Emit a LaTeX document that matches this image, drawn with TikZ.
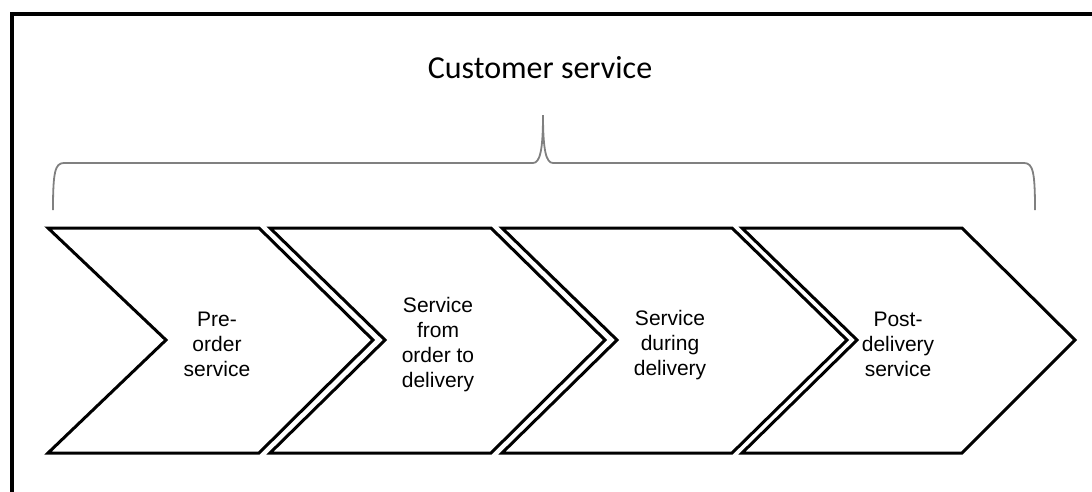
\documentclass[tikz,border=0pt]{standalone}
\usepackage{fontspec}
\setmainfont{Carlito}
\newfontfamily\arialfont{Liberation Sans}
\begin{document}
\begin{tikzpicture}[x=1pt,y=-1pt,
  chev/.style={draw=black,line width=3pt,line join=miter,fill=white},
  chevtext/.style={align=center,font=\arialfont\fontsize{21}{25}\selectfont,inner sep=0pt},
  bracepath/.style={draw=black!50,line width=1.8pt},
  frameline/.style={draw=black,line width=3.5pt}]
\useasboundingbox (0,0) rectangle (1092,491);
% frame (cropped at right and bottom)
\draw[frameline] (12,500) -- (12,14) -- (1100,14);
% title
\node[font=\fontsize{32}{38}\selectfont,anchor=base,inner sep=0pt] (title) at (540,78) {Customer service};
% brace
\draw[bracepath] (53,210) .. controls (53,172) and (55,163) .. (64,163)
  -- (533,163) .. controls (540,163) and (543,150) .. (543,115)
  .. controls (543,150) and (546,163) .. (553,163)
  -- (1024,163) .. controls (1033,163) and (1035,172) .. (1035,210);
% chevrons
\draw[chev] (48,228) -- (259,228) -- (373,340) -- (259,453) -- (48,453) -- (166,340) -- cycle;
\draw[chev] (270,228) -- (491,228) -- (605,340) -- (491,453) -- (270,453) -- (385,340) -- cycle;
\draw[chev] (502,228) -- (732,228) -- (847,340) -- (732,453) -- (502,453) -- (617,340) -- cycle;
\draw[chev] (742,228) -- (962,228) -- (1075,340) -- (962,453) -- (742,453) -- (857,340) -- cycle;
% texts
\node[chevtext] (c1) at (217,344) {Pre-\\order\\service};
\node[chevtext] (c2) at (438,345) {Service\\from\\order to\\delivery};
\node[chevtext] (c3) at (670,345) {Service\\during\\delivery};
\node[chevtext] (c4) at (898,344) {Post-\\delivery\\service};
\end{tikzpicture}
\end{document}
